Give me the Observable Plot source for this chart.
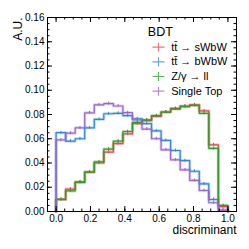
<!DOCTYPE html>
<html><head><meta charset="utf-8">
<script src="https://cdn.jsdelivr.net/npm/d3@7"></script>
<script src="https://cdn.jsdelivr.net/npm/@observablehq/plot@0.6"></script>
<style>body{margin:0;background:#fff} svg{display:block}</style>
</head><body><div id="chart"></div>
<script>
// ---- data ----
const binEdges = [0.0000,0.0556,0.1111,0.1667,0.2222,0.2778,0.3333,0.3889,0.4444,0.5000,0.5556,0.6111,0.6667,0.7222,0.7778,0.8333,0.8889,0.9444,1.0000];
const ttSWbW   = [0.010,0.0185,0.0245,0.0325,0.040,0.049,0.056,0.064,0.0725,0.075,0.0785,0.082,0.085,0.087,0.088,0.083,0.055,0.004];
const ttBWbW   = [0.065,0.058,0.060,0.069,0.076,0.0806,0.081,0.079,0.0765,0.0725,0.0665,0.0586,0.0503,0.042,0.0332,0.0228,0.0099,0.001];
const zGammaLL = [0.010,0.017,0.024,0.0325,0.041,0.0515,0.058,0.066,0.0735,0.0755,0.079,0.082,0.0845,0.0865,0.0875,0.081,0.052,0.005];
const singleTop= [0.059,0.0646,0.069,0.0814,0.088,0.089,0.087,0.0815,0.0756,0.068,0.060,0.0509,0.0426,0.0344,0.0256,0.0173,0.0072,0.001];
const errSize  = [0.0012,0.0012,0.0012,0.0012];
const seriesNames  = ["tt\u0304 \u2192 sWbW","tt\u0304 \u2192 bWbW","Z/\u03b3 \u2192 ll","Single Top"];
const seriesValues = [ttSWbW, ttBWbW, zGammaLL, singleTop];
const seriesColors = ["#e8464a","#3187d2","#26a026","#9966cc"];
const xMajor = [0,0.2,0.4,0.6,0.8,1.0];
const yMajor = [0,0.02,0.04,0.06,0.08,0.10,0.12,0.14,0.16];
const xMinor = d3.range(-1,22).map(i=>i*0.05);
const yMinor = d3.range(0,33).map(i=>i*0.005);
const titleText = "BDT", xLabel = "discriminant", yLabel = "A.U.";

// ---- build ----
function stepPoints(vals){
  const pts=[{x:binEdges[0],y:0}];
  vals.forEach((v,i)=>{pts.push({x:binEdges[i],y:v},{x:binEdges[i+1],y:v});});
  pts.push({x:binEdges[vals.length],y:0});
  return pts;
}
function barPoints(vals,e){
  return vals.map((v,i)=>({x:(binEdges[i]+binEdges[i+1])/2,y1:v-e,y2:v+e}));
}
const W=249,H=249,mL=47,mR=13,mT=17,mB=38;
const fw=W-mL-mR, fh=H-mT-mB;
const cross={draw(ctx){ctx.moveTo(-6,0);ctx.lineTo(6,0);ctx.moveTo(0,-4.5);ctx.lineTo(0,4.5);}};
const marks=[];
seriesValues.forEach((vals,k)=>{
  marks.push(Plot.line(stepPoints(vals),{x:"x",y:"y",stroke:seriesColors[k],strokeWidth:3,strokeOpacity:0.3}));
});
seriesValues.forEach((vals,k)=>{
  marks.push(Plot.line(stepPoints(vals),{x:"x",y:"y",stroke:seriesColors[k],strokeWidth:1.2}));
  marks.push(Plot.ruleX(barPoints(vals,errSize[k]),{x:"x",y1:"y1",y2:"y2",stroke:seriesColors[k],strokeWidth:1}));
});
marks.push(
  Plot.frame({stroke:"#000",strokeWidth:1}),
  Plot.tickX(xMajor,{x:d=>d,insetTop:fh-5,stroke:"#000"}),
  Plot.tickX(xMajor,{x:d=>d,insetBottom:fh-5,stroke:"#000"}),
  Plot.tickX(xMinor.filter(v=>v>-0.06&&v<1.06),{x:d=>d,insetTop:fh-2.5,stroke:"#000"}),
  Plot.tickX(xMinor.filter(v=>v>-0.06&&v<1.06),{x:d=>d,insetBottom:fh-2.5,stroke:"#000"}),
  Plot.tickY(yMajor,{y:d=>d,insetRight:fw-5,stroke:"#000"}),
  Plot.tickY(yMajor,{y:d=>d,insetLeft:fw-5,stroke:"#000"}),
  Plot.tickY(yMinor,{y:d=>d,insetRight:fw-2.5,stroke:"#000"}),
  Plot.tickY(yMinor,{y:d=>d,insetLeft:fw-2.5,stroke:"#000"}),
  Plot.axisX(xMajor,{tickSize:0,tickPadding:3,tickFormat:d3.format(".1f"),label:null,fontSize:10}),
  Plot.axisY(yMajor,{tickSize:0,tickPadding:3,tickFormat:d3.format(".2f"),label:null,fontSize:10}),
  Plot.text([yLabel],{frameAnchor:"top-left",dx:-29.5,dy:0,rotate:-90,textAnchor:"end",lineAnchor:"middle",fontSize:12,text:d=>d}),
  Plot.text([xLabel],{frameAnchor:"bottom-right",dx:0,dy:19,textAnchor:"end",lineAnchor:"middle",fontSize:12,text:d=>d}),
  Plot.text([titleText],{frameAnchor:"top-left",dx:100.3,dy:14.7,textAnchor:"start",lineAnchor:"middle",fontSize:12.5,text:d=>d})
);
seriesNames.forEach((name,i)=>{
  marks.push(
    Plot.dot([name],{frameAnchor:"top-left",dx:111,dy:29.7+14.65*i,symbol:cross,stroke:seriesColors[i],strokeOpacity:0.75,fill:"none",strokeWidth:1.2}),
    Plot.text([name],{frameAnchor:"top-left",dx:123.7,dy:29.7+14.65*i,textAnchor:"start",lineAnchor:"middle",fontSize:11,text:d=>d})
  );
});
const chart=Plot.plot({
  width:W,height:H,marginLeft:mL,marginRight:mR,marginTop:mT,marginBottom:mB,
  style:{fontFamily:"'Liberation Sans', Arial, Helvetica, sans-serif",fontSize:"10px",color:"#000",background:"#fff"},
  x:{domain:[-0.05,1.05],label:null},
  y:{domain:[0,0.16],label:null},
  marks
});
document.getElementById("chart").append(chart);
</script>
</body></html>
